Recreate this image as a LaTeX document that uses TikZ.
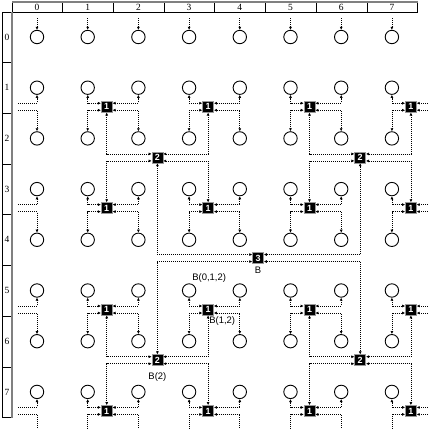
\documentclass[tikz,border=0pt]{standalone}
\usepackage{fontspec}
\setmainfont{Liberation Serif}
\setsansfont{Liberation Sans}
\usetikzlibrary{arrows.meta}
\usetikzlibrary{positioning}

\begin{document}
\begin{tikzpicture}[x=1bp,y=-1bp,
  pe/.style={circle,draw=black,line width=0.9bp,fill=white,minimum size=13.4bp,inner sep=0pt},
  sw/.style={rectangle,fill=black,draw=black!40,line width=0.6bp,minimum size=11bp,inner sep=0pt,text=white,font=\sffamily\bfseries\fontsize{9}{9}\selectfont},
  lnk/.style={line width=0.8bp,dash pattern=on 1bp off 1bp},
  link/.style={lnk,{Latex[length=3bp,width=3bp]}-{Latex[length=3bp,width=3bp]}},
  linkin/.style={lnk,-{Latex[length=3bp,width=3bp]}},
  linkout/.style={lnk,{Latex[length=3bp,width=3bp]}-},
  hdr/.style={draw=black,line width=0.8bp},
  num/.style={font=\fontsize{9.5}{9.5}\selectfont,inner sep=0pt},
  tag/.style={font=\sffamily\fontsize{9.5}{9.5}\selectfont,inner sep=1.5bp}]
\useasboundingbox (0,0) rectangle (428,429);

\foreach \c in {0,...,7} {
  \draw[hdr] ({12+50.7*\c},2) rectangle ({12+50.7*(\c+1)},12);
  \node[num] (h-\c) at ({37+50.7*\c},7) {\c};
}
\foreach \r in {0,...,7} {
  \draw[hdr] (2,{12+50.7*\r}) rectangle (12,{12+50.7*(\r+1)});
  \node[num] (v-\r) at (7,{37+50.7*\r}) {\r};
}
\draw[gray,line width=1.5bp] (12,2) -- (417.6,2);
\draw[gray,line width=1.5bp] (12,12) -- (12,417.6);

\foreach \c in {0,...,7}
  \foreach \r in {0,...,7}
    \node[pe] (n-\c-\r) at ({37+50.7*\c},{37+50.7*\r}) {};
\foreach \i in {0,...,3}
  \foreach \j in {0,...,3}
    \node[sw] (a-\i-\j) at ({37+50.7*(2*\i+1.375)},{37+50.7*(2*\j+1.375)}) {1};
\foreach \i in {0,1}
  \foreach \j in {0,1}
    \node[sw] (b-\i-\j) at ({37+50.7*(4*\i+2.375)},{37+50.7*(4*\j+2.375)}) {2};
\node[sw] (s3) at ({37+50.7*4.36},{37+50.7*4.36}) {3};

\foreach \c in {0,...,7} {
  \coordinate (t-\c) at ({37+50.7*\c},18);
  \coordinate (d-\c) at ({37+50.7*\c},429);
  \draw[linkin] (t-\c) -- (n-\c-0.north);
}
\foreach \j in {0,...,3} {
  \coordinate (w-\j) at (18,{37+50.7*(2*\j+1.375)});
  \coordinate (e-\j) at (428,{37+50.7*(2*\j+1.375)});
  \pgfmathtruncatemacro\yu{2*\j+1}
  \pgfmathtruncatemacro\yd{2*\j+2}
  \draw[linkin] ([yshift=3.5bp]w-\j) -| (n-0-\yu.south);
  \ifnum\j<3\relax \draw[linkin] ([yshift=-3.5bp]w-\j) -| (n-0-\yd.north);
  \else \draw[lnk] ([yshift=-3.5bp]w-\j) -| (d-0); \fi
}

\foreach \i in {0,...,3}
  \foreach \j in {0,...,3} {
    \pgfmathtruncatemacro\xl{2*\i+1}
    \pgfmathtruncatemacro\xr{2*\i+2}
    \pgfmathtruncatemacro\yu{2*\j+1}
    \pgfmathtruncatemacro\yd{2*\j+2}
    \draw[link] ([yshift=3.5bp]a-\i-\j.west) -| (n-\xl-\yu.south);
    \ifnum\j<3\relax \draw[link] ([yshift=-3.5bp]a-\i-\j.west) -| (n-\xl-\yd.north);
    \else \draw[linkout] ([yshift=-3.5bp]a-\i-\j.west) -| (d-\xl); \fi
    \ifnum\i<3\relax
      \draw[link] ([yshift=3.5bp]a-\i-\j.east) -| (n-\xr-\yu.south);
      \ifnum\j<3\relax \draw[link] ([yshift=-3.5bp]a-\i-\j.east) -| (n-\xr-\yd.north);
      \else \draw[linkout] ([yshift=-3.5bp]a-\i-\j.east) -| (d-\xr); \fi
    \else
      \draw[linkout] ([yshift=3.5bp]a-\i-\j.east) -- ([yshift=3.5bp]e-\j);
      \draw[linkout] ([yshift=-3.5bp]a-\i-\j.east) -- ([yshift=-3.5bp]e-\j);
    \fi
  }

\foreach \i in {0,1}
  \foreach \j in {0,1} {
    \pgfmathtruncatemacro\xl{2*\i}
    \pgfmathtruncatemacro\xr{2*\i+1}
    \pgfmathtruncatemacro\yu{2*\j}
    \pgfmathtruncatemacro\yd{2*\j+1}
    \draw[link] ([yshift=3.5bp]b-\i-\j.west) -| (a-\xl-\yu.south);
    \draw[link] ([yshift=-3.5bp]b-\i-\j.west) -| (a-\xl-\yd.north);
    \draw[link] ([yshift=3.5bp]b-\i-\j.east) -| (a-\xr-\yu.south);
    \draw[link] ([yshift=-3.5bp]b-\i-\j.east) -| (a-\xr-\yd.north);
  }
\draw[link] ([yshift=3.5bp]s3.west) -| (b-0-0.south);
\draw[link] ([yshift=-3.5bp]s3.west) -| (b-0-1.north);
\draw[link] ([yshift=3.5bp]s3.east) -| (b-1-0.south);
\draw[link] ([yshift=-3.5bp]s3.east) -| (b-1-1.north);

\node[tag,below=1.5bp of s3] (lb3) {B};
\node[tag,below=5bp of b-0-1] (lb2) {B(2)};
\node[tag,anchor=north west,inner sep=1bp] (lb12) at (a-1-2.south) {B(1,2)};
\node[tag,anchor=south west,xshift=1.5bp,yshift=-1bp] (lb012) at (n-3-5.north) {B(0,1,2)};

\end{tikzpicture}
\end{document}
